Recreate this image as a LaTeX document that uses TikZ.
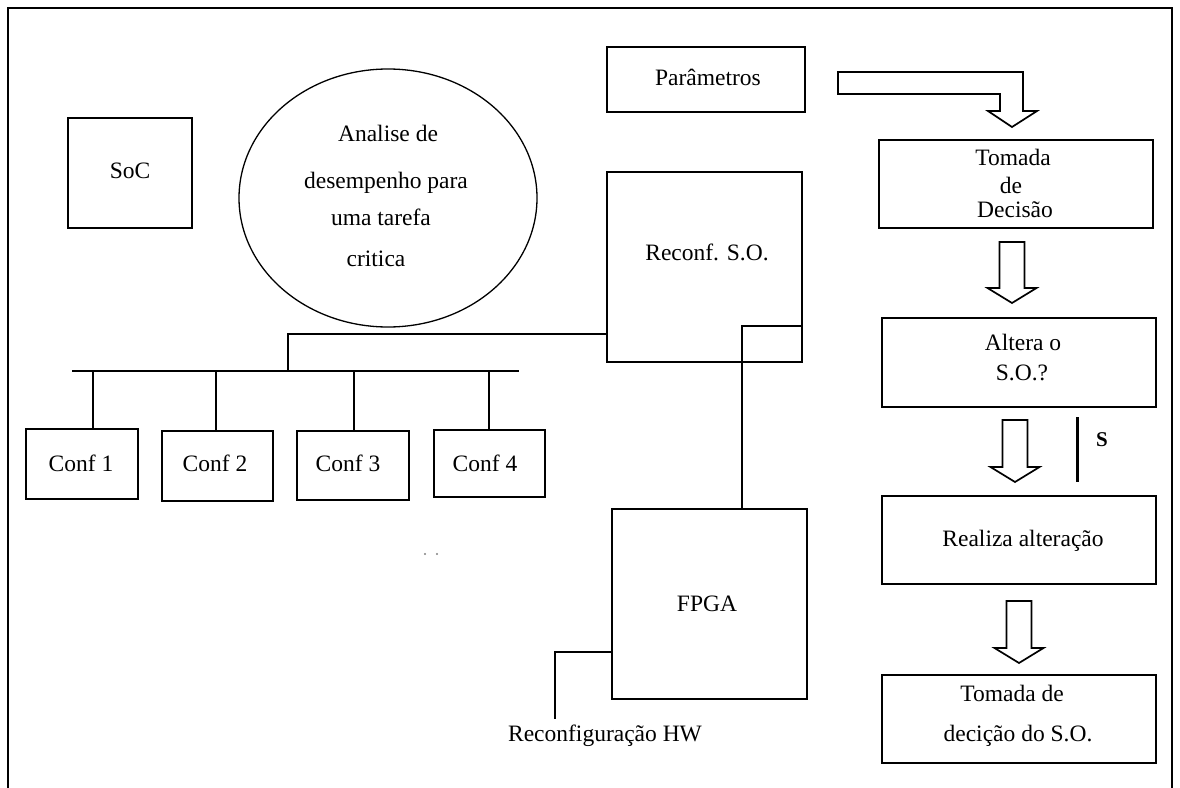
\documentclass[tikz,border=0pt]{standalone}
\usepackage{fontspec}
\setmainfont{Liberation Serif}
\usetikzlibrary{shapes.geometric}
\newcommand\blkarrow[4]{%
  \draw[wire] ({#1-12.5},#2) -- ({#1+12.5},#2) -- ({#1+12.5},#3) -- ({#1+24.5},#3)
    -- (#1,#4) -- ({#1-24.5},#3) -- ({#1-12.5},#3) -- cycle;}
\begin{document}
\begin{tikzpicture}[x=1pt,y=-1pt,
  box/.style={draw, line width=1.7pt, inner sep=0pt},
  wire/.style={line width=1.7pt},
  txt/.style={inner sep=0pt, text height=0.66em, text depth=0pt,
              font=\fontsize{23.5}{26}\selectfont}]
\useasboundingbox (0,0) rectangle (1180,787);
% frame
\draw[line width=2.2pt] (8,800) -- (8,8) -- (1172,8) -- (1172,800);

% left side
\node[box, minimum width=124pt, minimum height=110pt] (soc) at (130,173) {};
\node[txt] (soct) at (130,175) {SoC};
\node[draw, ellipse, line width=1.3pt, minimum width=298pt, minimum height=258pt] (ana) at (388,198) {};
\node[txt] (ana1) at (388,138) {Analise de};
\node[txt] (ana2) at (386,185) {desempenho para};
\node[txt] (ana3) at (381,222) {uma tarefa};
\node[txt] (ana4) at (376,263) {critica};

\node[box, minimum width=112pt, minimum height=70pt] (c1) at (82,464) {};
\node[box, minimum width=111pt, minimum height=70pt] (c2) at (217.5,466) {};
\node[box, minimum width=112pt, minimum height=69pt] (c3) at (353,465.5) {};
\node[box, minimum width=111pt, minimum height=67pt] (c4) at (489.5,463.5) {};
\node[txt] (c1t) at (81,468) {Conf 1};
\node[txt] (c2t) at (215,468) {Conf 2};
\node[txt] (c3t) at (348,468) {Conf 3};
\node[txt] (c4t) at (485,468) {Conf 4};

\coordinate (busL) at (72,371);
\coordinate (busR) at (519,371);
\coordinate (busJ) at (288,371);
\draw[wire] (busL) -- (busR);
\draw[wire] ([xshift=11pt]c1.north) -- ([xshift=11pt]c1.north |- busL);
\draw[wire] ([xshift=-1.5pt]c2.north) -- ([xshift=-1.5pt]c2.north |- busL);
\draw[wire] ([xshift=1pt]c3.north) -- ([xshift=1pt]c3.north |- busL);
\draw[wire] ([xshift=-0.5pt]c4.north) -- ([xshift=-0.5pt]c4.north |- busL);

\fill[gray] (425,554) circle (1.2pt) (437,554) circle (1.2pt);

% middle
\node[box, minimum width=198pt, minimum height=65pt] (par) at (706,79.5) {};
\node[txt] (part) at (708,82) {Parâmetros};
\node[box, minimum width=195pt, minimum height=190pt] (rso) at (704.5,267) {};
\node[txt] (rsot) at (707,257) {Reconf. S.O.};
\node[box, minimum width=195pt, minimum height=190pt] (fpga) at (709.5,604) {};
\node[txt] (fpgat) at (707,608) {FPGA};
\node[txt] (hw) at (605,738) {Reconfiguração HW};
\coordinate (hwtop) at (555,719);

\draw[wire] ([yshift=-67pt]rso.west) -| (busJ);
\draw[wire] ([yshift=-59pt]rso.east) -| ([xshift=32.5pt]fpga.north);
\draw[wire] ([yshift=-48pt]fpga.west) -| (hwtop);

% right column
\node[box, minimum width=274pt, minimum height=88pt] (tom) at (1016,184) {};
\node[txt] (tom1) at (1013,162) {Tomada};
\node[txt] (tom2) at (1011,190) {de};
\node[txt] (tom3) at (1015,214) {Decisão};
\node[box, minimum width=274pt, minimum height=89pt] (alt) at (1019,362.5) {};
\node[txt] (alt1) at (1023,347) {Altera o};
\node[txt] (alt2) at (1022,377) {S.O.?};
\node[box, minimum width=274pt, minimum height=88pt] (rea) at (1019,540) {};
\node[txt] (reat) at (1023,543) {Realiza alteração};
\node[box, minimum width=274pt, minimum height=88pt] (tso) at (1019,719) {};
\node[txt] (tso1) at (1012,698) {Tomada de};
\node[txt] (tso2) at (1018,738) {decição do S.O.};

% Parametros block arrow
\draw[wire] (838,72) -- (1023,72) -- (1023,111) -- (1037,111) -- (1012,127)
  -- (988,111) -- (1000,111) -- (1000,94) -- (838,94) -- cycle;
\blkarrow{1012}{242}{288}{303}
\blkarrow{1015}{420}{467}{482}
\blkarrow{1019}{601}{648}{663}

\coordinate (sT) at (1077,417);
\coordinate (sB) at (1077,482);
\draw[line width=3pt] (sT) -- (sB);
\node[txt, font=\fontsize{21}{24}\selectfont\bfseries] (slab) at (1102,443) {S};
\end{tikzpicture}
\end{document}
